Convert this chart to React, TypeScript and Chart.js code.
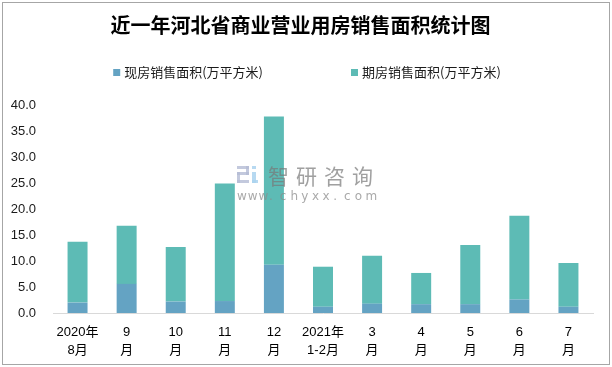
import { useEffect, useRef } from "react";
import { Chart, registerables } from "chart.js";

Chart.register(...registerables);

const chartTitle = "近一年河北省商业营业用房销售面积统计图";
const categories: string[][] = [
  ["2020年", "8月"],
  ["9", "月"],
  ["10", "月"],
  ["11", "月"],
  ["12", "月"],
  ["2021年", "1-2月"],
  ["3", "月"],
  ["4", "月"],
  ["5", "月"],
  ["6", "月"],
  ["7", "月"],
];
const seriesNames = ["现房销售面积(万平方米)", "期房销售面积(万平方米)"];
const spotArea = [2.0, 5.6, 2.2, 2.3, 9.3, 1.2, 1.8, 1.7, 1.7, 2.6, 1.2];
const futureArea = [11.7, 11.2, 10.5, 22.6, 28.5, 7.7, 9.2, 6.0, 11.4, 16.1, 8.4];
const seriesColors = ["#64A3C3", "#5DBBB5"];
const yMin = 0;
const yMax = 40;
const yStep = 5;

const CJK = '"Noto Sans CJK SC"';
const LATIN = '"Liberation Sans", "Noto Sans CJK SC"';

export default function App() {
  const ref = useRef<HTMLCanvasElement>(null);

  useEffect(() => {
    const canvas = ref.current;
    if (!canvas) return;

    const decor = {
      id: "decor",
      beforeDraw(chart: any) {
        const ctx = chart.ctx;
        ctx.save();
        ctx.fillStyle = "#ffffff";
        ctx.fillRect(0, 0, chart.width, chart.height);
        ctx.strokeStyle = "#a6a6a6";
        ctx.lineWidth = 1;
        ctx.strokeRect(2.5, 2.5, chart.width - 5, chart.height - 5);
        ctx.restore();
      },
      afterDatasetsDraw(chart: any) {
        const ctx = chart.ctx;
        ctx.save();
        // logo
        ctx.fillStyle = "rgba(180,188,212,0.8)";
        ctx.fillRect(237, 166, 12, 3);
        ctx.fillRect(246, 166, 3, 9);
        ctx.fillRect(237, 172, 12, 3);
        ctx.fillRect(237, 172, 3, 11);
        ctx.fillRect(237, 180, 12, 3);
        ctx.fillStyle = "rgba(170,210,238,0.85)";
        ctx.fillRect(252, 166, 4, 3);
        ctx.fillRect(252, 172, 4, 11);
        ctx.fillRect(252, 180, 6, 3);
        // text
        ctx.fillStyle = "rgba(120,120,120,0.7)";
        ctx.font = `21px ${CJK}`;
        ctx.textBaseline = "middle";
        ctx.textAlign = "left";
        const wm = "智研咨询";
        for (let i = 0; i < wm.length; i++) ctx.fillText(wm[i], 268 + i * 28, 176);
        ctx.fillStyle = "rgba(140,140,140,0.75)";
        ctx.font = `12px "DejaVu Sans"`;
        const url = "www.chyxx.com";
        for (let i = 0; i < url.length; i++) ctx.fillText(url[i], 237 + i * 10.7, 197);
        ctx.restore();
      },
      afterDraw(chart: any) {
        const ctx = chart.ctx;
        ctx.save();
        ctx.font = `13px ${CJK}`;
        ctx.textBaseline = "middle";
        ctx.textAlign = "left";
        const box = 7;
        const gapBox = 4;
        const gapItems = 88;
        const widths = seriesNames.map((n) => ctx.measureText(n).width);
        const total = widths.reduce((a, w) => a + w + box + gapBox, 0) + gapItems;
        let x = chart.width / 2 - total / 2 + 1;
        const y = 72.5;
        seriesNames.forEach((n, i) => {
          ctx.fillStyle = seriesColors[i];
          ctx.fillRect(x, y - box / 2, box, box);
          ctx.fillStyle = "#1a1a1a";
          ctx.fillText(n, x + box + gapBox, y);
          x += box + gapBox + widths[i] + gapItems;
        });
        ctx.restore();
      },
    };

    const chart = new Chart(canvas, {
      type: "bar",
      data: {
        labels: categories,
        datasets: [
          {
            label: seriesNames[0],
            data: spotArea,
            backgroundColor: seriesColors[0],
            borderWidth: 0,
            barPercentage: 0.407,
            categoryPercentage: 1,
          },
          {
            label: seriesNames[1],
            data: futureArea,
            backgroundColor: seriesColors[1],
            borderWidth: 0,
            barPercentage: 0.407,
            categoryPercentage: 1,
          },
        ],
      },
      options: {
        responsive: false,
        animation: false,
        devicePixelRatio: 1,
        layout: { padding: { left: 8, right: 19, top: 0, bottom: 0 } },
        plugins: {
          legend: { display: false },
          tooltip: { enabled: false },
          title: {
            display: true,
            text: chartTitle,
            color: "#000000",
            font: { family: CJK, size: 20, weight: "bold", lineHeight: 1.2 },
            padding: { top: 13, bottom: 68 },
          },
        },
        scales: {
          x: {
            stacked: true,
            grid: { display: false, drawTicks: false },
            border: { display: true, color: "#d9d9d9", width: 1 },
            ticks: {
              color: "#000000",
              font: { family: LATIN, size: 13, lineHeight: "17.5px" } as any,
              padding: 11,
              maxRotation: 0,
              autoSkip: false,
            },
            afterFit: (scale: any) => {
              scale.height = 54;
            },
          },
          y: {
            stacked: true,
            min: yMin,
            max: yMax,
            grid: { display: false, drawTicks: false },
            border: { display: false },
            ticks: {
              stepSize: yStep,
              color: "#1a1a1a",
              font: { family: LATIN, size: 13 },
              padding: 17,
              callback: (v: any) => Number(v).toFixed(1),
            },
            afterFit: (scale: any) => {
              scale.width = 45;
            },
          },
        },
      },
      plugins: [decor],
    });

    return () => chart.destroy();
  }, []);

  return (
    <div style={{ position: "absolute", left: 0, top: 0, width: 612, height: 367 }}>
      <canvas ref={ref} width={612} height={367} style={{ display: "block", width: 612, height: 367 }} />
    </div>
  );
}
